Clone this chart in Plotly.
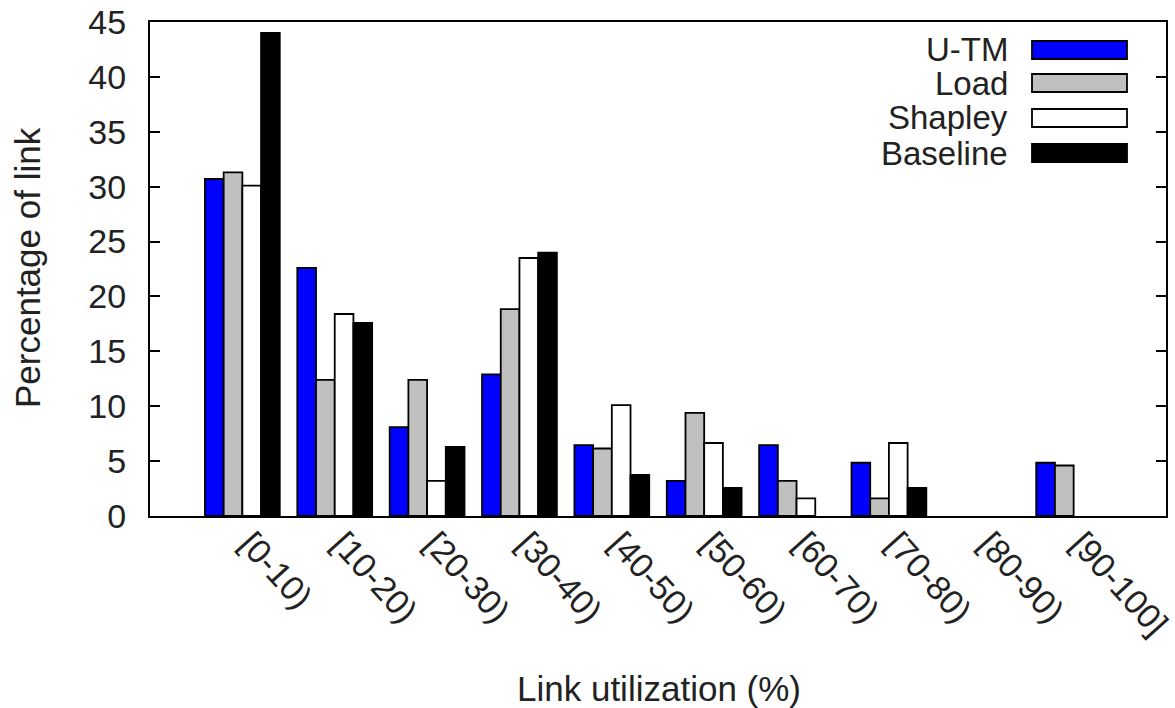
import plotly.graph_objects as go

categories = ["[0-10)", "[10-20)", "[20-30)", "[30-40)", "[40-50)",
              "[50-60)", "[60-70)", "[70-80)", "[80-90)", "[90-100]"]
series_names = ["U-TM", "Load", "Shapley", "Baseline"]
utm = [30.7, 22.6, 8.1, 12.9, 6.45, 3.2, 6.45, 4.85, 0, 4.85]
load = [31.3, 12.4, 12.4, 18.85, 6.15, 9.4, 3.2, 1.6, 0, 4.6]
shapley = [30.1, 18.4, 3.2, 23.5, 10.1, 6.65, 1.6, 6.65, 0, 0]
baseline = [44.0, 17.6, 6.3, 24.0, 3.75, 2.55, 0, 2.55, 0, 0]
colors = ["#0000ff", "#c0c0c0", "#ffffff", "#000000"]
yticks = [0, 5, 10, 15, 20, 25, 30, 35, 40, 45]

W, H = 1175, 708
L, R, T, B = 150, 1166, 22, 516
FONT = "Liberation Sans, Arial, sans-serif"
TXT = "#222222"
TITLE_SIZE = 35
TICK_SIZE = 34
LEGEND_SIZE = 33

def px(x):
    return (x - L) / (R - L)

def py(y):
    return (B - y) / (B - T)

fig = go.Figure()
xs = list(range(len(categories)))
for name, vals, col in zip(series_names, [utm, load, shapley, baseline], colors):
    fig.add_trace(go.Bar(
        x=xs, y=vals, name=name,
        marker=dict(color=col,
                    line=dict(color="#000000",
                              width=[1.8 if v > 0 else 0 for v in vals])),
        showlegend=False,
    ))

# custom legend (gnuplot-style wide swatches)
row_y = [50, 83, 118, 153]
for name, col, yy in zip(series_names, colors, row_y):
    fig.add_annotation(x=px(1010), y=py(yy), xref="paper", yref="paper",
                       text=name, showarrow=False, xanchor="right", yanchor="middle",
                       font=dict(family=FONT, size=LEGEND_SIZE, color=TXT))
    fig.add_shape(type="rect", xref="paper", yref="paper",
                  x0=px(1032), x1=px(1127), y0=py(yy - 9), y1=py(yy + 9),
                  fillcolor=col, line=dict(color="#000000", width=1.8))

fig.add_annotation(x=px(659), y=py(688), xref="paper", yref="paper",
                   text="Link utilization (%)", showarrow=False,
                   xanchor="center", yanchor="middle",
                   font=dict(family=FONT, size=TITLE_SIZE, color=TXT))
fig.add_annotation(x=px(27), y=py(268), xref="paper", yref="paper",
                   text="Percentage of link", showarrow=False, textangle=-90,
                   xanchor="center", yanchor="middle",
                   font=dict(family=FONT, size=TITLE_SIZE, color=TXT))

fig.update_layout(
    width=W, height=H,
    margin=dict(l=L, r=W - R, t=T, b=H - B, pad=0, autoexpand=False),
    paper_bgcolor="white", plot_bgcolor="white",
    barmode="group", bargap=0.19, bargroupgap=0.0,
    font=dict(family=FONT, size=TICK_SIZE, color=TXT),
)
fig.update_xaxes(
    range=[-1, 10], tickvals=xs, ticktext=categories, tickangle=48,
    showline=True, linecolor="#000000", linewidth=2, mirror=True,
    ticks="", showgrid=False, zeroline=False, automargin=False,
    ticklabeloverflow="allow", ticklabelstandoff=-8, ticklabelshift=8,
    tickfont=dict(family=FONT, size=TICK_SIZE, color=TXT),
)
fig.update_yaxes(
    range=[0, 45], tickvals=yticks,
    showline=True, linecolor="#000000", linewidth=2, mirror="ticks",
    ticks="inside", ticklen=10, tickwidth=2, tickcolor="#000000",
    ticklabelstandoff=15, automargin=False,
    showgrid=False, zeroline=False,
    tickfont=dict(family=FONT, size=TICK_SIZE, color=TXT),
)

fig.write_html("out.html",
               config={"displayModeBar": False},
               post_script="document.body.style.margin='0';document.body.style.overflow='hidden';")
